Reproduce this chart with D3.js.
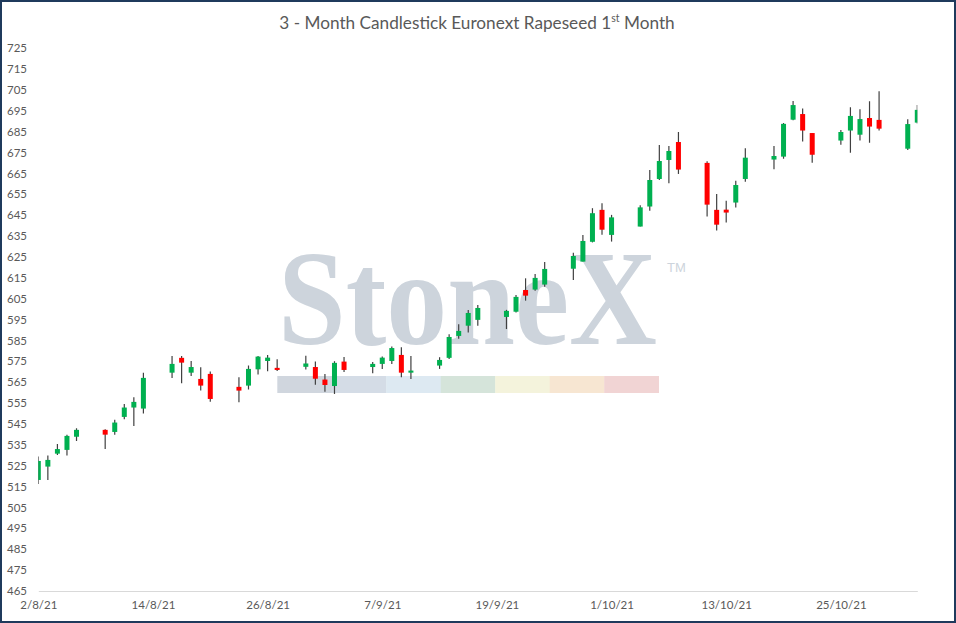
<!DOCTYPE html>
<html>
<head>
<meta charset="utf-8">
<script src="https://cdn.jsdelivr.net/npm/d3@7"></script>
<style>
  body { margin: 0; background: #fff; }
  svg { display: block; font-family: Lato, "Open Sans", sans-serif; }
</style>
</head>
<body>
<svg id="chart" width="956" height="623"></svg>
<script>
// daily candles, Euronext rapeseed 1st month
const dates = [
  "2/8/21", "3/8/21", "4/8/21", "5/8/21", "6/8/21",
  "9/8/21", "10/8/21", "11/8/21", "12/8/21", "13/8/21",
  "16/8/21", "17/8/21", "18/8/21", "19/8/21", "20/8/21",
  "23/8/21", "24/8/21", "25/8/21", "26/8/21", "27/8/21",
  "30/8/21", "31/8/21", "1/9/21", "2/9/21", "3/9/21",
  "6/9/21", "7/9/21", "8/9/21", "9/9/21", "10/9/21",
  "13/9/21", "14/9/21", "15/9/21", "16/9/21", "17/9/21",
  "20/9/21", "21/9/21", "22/9/21", "23/9/21", "24/9/21",
  "27/9/21", "28/9/21", "29/9/21", "30/9/21", "1/10/21",
  "4/10/21", "5/10/21", "6/10/21", "7/10/21", "8/10/21",
  "11/10/21", "12/10/21", "13/10/21", "14/10/21", "15/10/21",
  "18/10/21", "19/10/21", "20/10/21", "21/10/21", "22/10/21",
  "25/10/21", "26/10/21", "27/10/21", "28/10/21", "29/10/21",
  "1/11/21", "2/11/21"
];
const open = [
  518.2, 524.6, 530.8, 532.6, 538.9,
  542.2, 541.2, 548.4, 552.9, 552.4,
  569.6, 576.7, 569.6, 566.6, 569.0,
  562.8, 563.4, 571.2, 575.2, 571.9,
  572.4, 572.3, 566.3, 563.2, 574.9,
  572.3, 573.8, 575.2, 578.1, 569.6,
  573.0, 576.7, 587.2, 592.1, 594.9,
  596.3, 598.8, 609.2, 609.4, 611.8,
  619.4, 622.8, 632.3, 647.6, 635.6,
  639.6, 649.2, 662.4, 671.5, 680.1,
  670.1, 647.6, 647.7, 651.1, 662.4,
  671.7, 673.1, 690.8, 693.5, 684.4,
  680.8, 685.6, 683.6, 691.6, 690.7,
  676.9, 689.4
];
const high = [
  529.4, 529.9, 535.4, 539.8, 543.0,
  542.5, 547.0, 554.6, 557.8, 569.6,
  577.6, 577.6, 575.2, 572.2, 570.1,
  567.4, 573.0, 577.6, 578.1, 576.0,
  577.7, 574.9, 569.0, 575.1, 577.1,
  574.7, 577.3, 582.1, 581.8, 577.6,
  577.0, 588.0, 592.8, 599.6, 602.0,
  599.7, 606.8, 614.8, 616.9, 622.6,
  627.0, 635.6, 648.4, 650.8, 645.2,
  649.8, 666.7, 678.7, 678.2, 684.9,
  670.9, 655.2, 652.0, 661.6, 677.1,
  678.2, 689.2, 699.8, 696.2, 684.4,
  685.9, 696.7, 695.8, 699.6, 704.4,
  691.0, 697.8
];
const low = [
  516.3, 518.2, 530.2, 529.9, 536.9,
  533.0, 539.8, 547.3, 544.1, 550.0,
  567.1, 564.5, 568.0, 561.0, 555.7,
  555.4, 561.5, 568.7, 570.3, 570.4,
  571.1, 563.8, 560.5, 559.4, 569.9,
  569.3, 571.4, 573.8, 567.4, 566.6,
  571.4, 576.2, 585.8, 588.8, 592.1,
  590.5, 598.4, 604.1, 608.9, 610.8,
  614.0, 622.8, 632.0, 635.7, 632.4,
  639.6, 647.2, 661.9, 660.3, 664.8,
  644.4, 637.7, 641.5, 648.7, 661.1,
  667.0, 672.1, 690.5, 680.3, 670.2,
  678.8, 675.0, 680.8, 679.8, 685.6,
  676.3, 689.0
];
const close = [
  527.3, 527.8, 533.0, 539.3, 542.2,
  539.9, 545.7, 552.9, 555.6, 567.1,
  573.8, 574.4, 572.3, 563.4, 557.0,
  561.0, 571.4, 577.3, 576.8, 570.9,
  574.0, 566.7, 563.7, 574.3, 570.9,
  573.8, 576.8, 581.4, 569.6, 570.6,
  575.7, 586.7, 589.6, 598.2, 600.6,
  599.2, 605.9, 606.5, 615.0, 619.3,
  625.5, 632.7, 646.0, 638.1, 644.0,
  648.8, 661.9, 671.0, 675.8, 666.9,
  650.1, 640.5, 646.3, 659.5, 672.6,
  673.4, 688.8, 697.8, 685.6, 674.0,
  684.9, 692.6, 691.1, 687.5, 686.5,
  688.7, 695.5
];

// axis labels
const xTickLabels = ["2/8/21", "14/8/21", "26/8/21", "7/9/21", "19/9/21", "1/10/21", "13/10/21", "25/10/21"];
const yTicks = d3.range(465, 726, 10);
const axisStart = "2/8/21";
const axisEnd = "2/11/21";

// watermark colour strip
const stripColors = ["#d0d6de", "#d4dce6", "#dde9f2", "#d5e4da", "#f4f3dc", "#f7e6d2", "#f1d4d4"];

const parseDate = d3.timeParse("%d/%m/%y");

const candles = dates.map((d, i) => ({
  date: parseDate(d),
  open: open[i],
  high: high[i],
  low: low[i],
  close: close[i]
}));

const svg = d3.select("#chart");
const margin = { left: 38.3, right: 917.3, top: 48.3, bottom: 591 };

const x = d3.scaleTime()
  .domain([parseDate(axisStart), parseDate(axisEnd)])
  .range([margin.left, margin.right]);

const y = d3.scaleLinear()
  .domain([465, 725])
  .range([margin.bottom, margin.top]);

// frame
svg.append("rect")
  .attr("x", 1).attr("y", 1)
  .attr("width", 954).attr("height", 621)
  .attr("fill", "#fff")
  .attr("stroke", "#1f3a5c")
  .attr("stroke-width", 2);

// title
const title = svg.append("text")
  .attr("x", 477).attr("y", 29)
  .attr("text-anchor", "middle")
  .attr("fill", "#595959")
  .attr("font-size", 17.2);
title.append("tspan").text("3 - Month Candlestick Euronext Rapeseed 1");
title.append("tspan").attr("font-size", 10.5).attr("dy", -7).text("st");
title.append("tspan").attr("dy", 7).text(" Month");

// watermark (drawn behind the candles)
const wm = svg.append("g");
const logo = wm.append("text")
  .attr("x", 0).attr("y", 0)
  .attr("font-family", "'Liberation Serif', 'DejaVu Serif', serif")
  .attr("font-weight", "bold")
  .attr("font-size", 136)
  .attr("fill", "#cdd4dc")
  .text("StoneX");
// squeeze the logo to the width it has in the original
const logoScale = 379 / logo.node().getComputedTextLength();
logo.attr("transform", `translate(278,344) scale(${logoScale},1)`);
wm.append("text")
  .attr("x", 667).attr("y", 272)
  .attr("font-family", "'Liberation Sans', sans-serif")
  .attr("font-size", 13)
  .attr("fill", "#cdd4dc")
  .text("TM");
const stripW = (658.7 - 277.3) / stripColors.length;
wm.selectAll("rect.strip")
  .data(stripColors)
  .enter().append("rect")
  .attr("class", "strip")
  .attr("x", (d, i) => 277.3 + i * stripW)
  .attr("y", 376)
  .attr("width", stripW + 0.3)
  .attr("height", 17)
  .attr("fill", d => d);

// y labels, no grid lines
svg.append("g")
  .selectAll("text")
  .data(yTicks)
  .enter().append("text")
  .attr("x", 27)
  .attr("y", d => y(d))
  .attr("dy", "0.35em")
  .attr("text-anchor", "end")
  .attr("fill", "#595959")
  .attr("font-size", 11.5)
  .text(d => d);

// x axis
const xAxis = svg.append("g")
  .attr("transform", `translate(0,${margin.bottom})`)
  .call(d3.axisBottom(x)
    .tickValues(xTickLabels.map(parseDate))
    .tickFormat(d3.timeFormat("%-d/%-m/%y"))
    .tickSize(0)
    .tickPadding(10));
xAxis.select(".domain").attr("stroke", "#d9d9d9");
xAxis.selectAll("text")
  .attr("fill", "#595959")
  .attr("font-size", 11.5)
  .attr("font-family", "Lato, 'Open Sans', sans-serif");

// candles, clipped to the plot area like the original
svg.append("clipPath").attr("id", "plot-clip")
  .append("rect")
  .attr("x", margin.left).attr("y", 0)
  .attr("width", margin.right - margin.left)
  .attr("height", margin.bottom);

const plot = svg.append("g").attr("clip-path", "url(#plot-clip)");
const bodyWidth = 5;

plot.selectAll(".wick")
  .data(candles)
  .enter().append("line")
  .attr("class", "wick")
  .attr("x1", d => x(d.date))
  .attr("x2", d => x(d.date))
  .attr("y1", d => y(d.high))
  .attr("y2", d => y(d.low))
  .attr("stroke", "#404040")
  .attr("stroke-width", 1.2);

plot.selectAll(".body")
  .data(candles)
  .enter().append("rect")
  .attr("class", "body")
  .attr("x", d => x(d.date) - bodyWidth / 2)
  .attr("y", d => y(Math.max(d.open, d.close)))
  .attr("width", bodyWidth)
  .attr("height", d => Math.max(1.5, Math.abs(y(d.open) - y(d.close))))
  .attr("fill", d => d.close >= d.open ? "#00b050" : "#ff0000");
</script>
</body>
</html>
